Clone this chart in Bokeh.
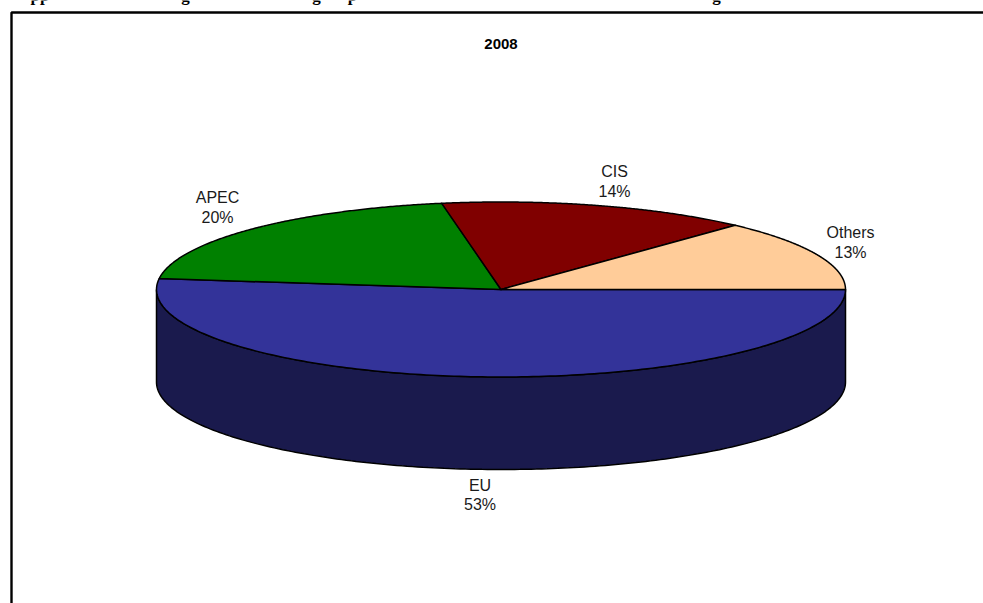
import numpy as np
from bokeh.plotting import figure
from bokeh.embed import file_html
from bokeh.resources import INLINE
from bokeh.core.properties import value

# Data
categories = ["EU", "APEC", "CIS", "Others"]
shares = [52.0, 20.25, 14.65, 13.1]
labels = ["53%", "20%", "14%", "13%"]      # printed labels
colors = ["#333399", "#008000", "#800000", "#FFCC99"]
side_color = "#1A1A4D"
title = "2008"
clipped_fragments = ["pp", "g", "g", "p", "g"]

W, H = 983, 603
CX, CY, RX, RY, DEPTH = 500.5, 289, 344.5, 87.5, 92.5

p = figure(width=W, height=H, x_range=(0, W), y_range=(H, 0),
           output_backend="svg", toolbar_location=None, min_border=0,
           outline_line_color=None, background_fill_color="white",
           border_fill_color="white")
p.styles = {"position": "absolute", "left": "0px", "top": "0px"}
p.axis.visible = False
p.grid.visible = False


def rim(t0, t1, n=200):
    """Points of the top ellipse; t in degrees, clockwise on screen from 3 o'clock."""
    t = np.radians(np.linspace(t0, t1, n))
    return CX + RX * np.cos(t), CY + RY * np.sin(t)


# side wall of the cylinder (lower half only)
xs, ys = rim(0, 180)
p.patch(np.r_[xs, xs[::-1]], np.r_[ys, ys[::-1] + DEPTH],
        fill_color=side_color, line_color="black", line_width=1.5)

# top slices
start = 0.0
for share, color in zip(shares, colors):
    sweep = share / sum(shares) * 360
    xs, ys = rim(start, start + sweep)
    p.patch(np.r_[CX, xs], np.r_[CY, ys], fill_color=color,
            line_color="black", line_width=1.5, line_join="round")
    start += sweep

# frame, clipped by the window on the right and below
p.line([11, 11, W + 5], [H + 5, 12, 12], line_color="black", line_width=2.4)

font = value("Liberation Sans")
label_pos = {"EU": (479.5, 484.5), "APEC": (217, 197), "CIS": (614, 171), "Others": (850, 232)}
for cat, lab in zip(categories, labels):
    x, y = label_pos[cat]
    p.text([x, x], [y, y + 19.5], text=[cat, lab], text_font=font, text_font_size="16px",
           text_align="center", text_baseline="middle", text_color="#1a1a1a")

p.text([500.5], [43], text=[title], text_font=font, text_font_size="15px",
       text_font_style="bold", text_align="center", text_baseline="middle", text_color="black")

# Only the descenders of a line of text above the chart show at the page's top edge
p.text([30, 185, 316, 352, 716], [-5, -5, -5, -5, -5], text=clipped_fragments,
       text_font=value("Liberation Serif"), text_font_size="17px", text_font_style="bold",
       text_align=["left", "center", "center", "center", "center"], text_baseline="alphabetic", text_color="black")

open("out.html", "w").write(file_html(p, INLINE))
